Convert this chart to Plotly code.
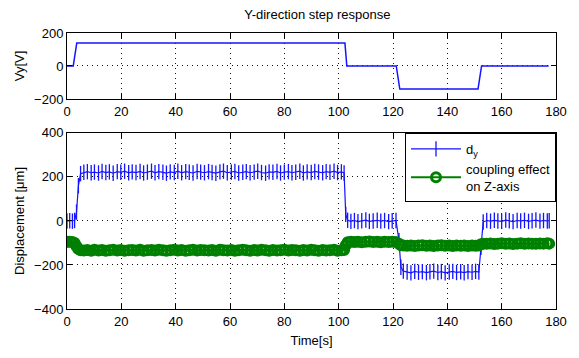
import plotly.graph_objects as go
from plotly.subplots import make_subplots

# ---- Top panel: applied voltage Vy ----
t_v = [0, 2.3, 3.6, 102.3, 102.5, 103.0, 121.2, 122.5, 151.3, 152.6, 177.3]
vy = [0, 0, 140, 140, 100, 0, 0, -140, -140, 0, 0]

# ---- Bottom panel: displacement dy and coupling effect on Z ----
t_d = [0, 1.0, 2.0, 2.8, 3.5, 4.2, 5.0, 6.2, 7.5, 8.9,
       10.1, 11.6, 12.9, 14.3, 15.6, 17.0, 18.5, 19.8, 21.2, 22.7,
       24.0, 25.4, 26.9, 28.2, 29.6, 31.1, 32.4, 33.8, 35.3, 36.6,
       38.0, 39.5, 40.8, 42.2, 43.7, 45.0, 46.4, 47.9, 49.2, 50.6,
       52.1, 53.4, 54.8, 56.3, 57.6, 59.0, 60.5, 61.8, 63.2, 64.7,
       66.0, 67.4, 68.9, 70.2, 71.6, 73.1, 74.4, 75.8, 77.3, 78.6,
       80.0, 81.5, 82.8, 84.2, 85.7, 87.0, 88.4, 89.9, 91.2, 92.6,
       94.1, 95.4, 96.8, 98.3, 99.6, 101.0, 102.0, 102.6, 103.3, 104.5,
       105.8, 107.1, 108.5, 110.0, 111.3, 112.7, 114.2, 115.5, 116.9, 118.4,
       119.7, 121.1, 122.2, 122.9, 123.8, 125.2, 126.6, 128.0, 129.4, 130.8,
       132.3, 133.6, 135.0, 136.5, 137.8, 139.2, 140.7, 142.0, 143.4, 144.9,
       146.2, 147.6, 149.1, 150.4, 151.6, 152.4, 153.2, 154.5, 155.9, 157.3,
       158.6, 160.0, 161.5, 162.8, 164.2, 165.7, 167.0, 168.4, 169.9, 171.2,
       172.6, 174.1, 175.4, 176.8, 177.5]

dy = [0, 1, -1, 2, 40, 160, 215, 221, 224, 219,
      222, 218, 225, 220, 223, 217, 224, 221, 226, 219,
      223, 220, 225, 218, 222, 226, 219, 224, 221, 217,
      223, 220, 226, 219, 224, 221, 218, 225, 222, 219,
      224, 220, 217, 223, 226, 219, 222, 225, 218, 221,
      224, 219, 222, 226, 220, 217, 223, 221, 225, 218,
      222, 224, 219, 221, 226, 218, 223, 220, 225, 222,
      219, 224, 221, 226, 220, 223, 218, 30, 3, -2,
      2, -3, 1, 4, -2, 0, 3, -1, 2, -3,
      1, 2, -90, -210, -228, -232, -236, -229, -233, -230,
      -235, -231, -228, -234, -230, -236, -232, -229, -234, -231,
      -235, -230, -233, -229, -232, -120, -5, 2, -1, 3,
      0, -2, 4, 1, -3, 2, 0, 3, -2, 1,
      4, -1, 2, 0, 1]

cz = [-95, -95, -96, -100, -115, -128, -133, -134, -132, -135,
      -131, -134, -132, -135, -133, -131, -134, -132, -135, -133,
      -132, -134, -131, -135, -133, -132, -134, -131, -133, -135,
      -133, -131, -134, -132, -135, -133, -131, -134, -132, -133,
      -134, -132, -135, -131, -133, -134, -132, -135, -133, -131,
      -133, -135, -132, -134, -131, -133, -135, -132, -134, -133,
      -131, -134, -132, -133, -135, -132, -134, -131, -133, -135,
      -132, -134, -133, -131, -135, -133, -132, -110, -97, -95,
      -96, -94, -97, -95, -93, -96, -94, -97, -95, -96,
      -94, -96, -104, -110, -112, -113, -111, -114, -112, -110,
      -113, -111, -114, -112, -110, -113, -111, -114, -112, -113,
      -111, -114, -112, -113, -111, -106, -103, -104, -102, -105,
      -103, -101, -104, -102, -105, -103, -101, -104, -102, -103,
      -104, -102, -103, -101, -103]

x_ticks = [0, 20, 40, 60, 80, 100, 120, 140, 160, 180]
vy_ticks = [-200, 0, 200]
d_ticks = [-400, -200, 0, 200, 400]

BLUE = "#1414ff"
GREEN = "#008000"
FONT = "Arial"

fig = make_subplots(rows=2, cols=1)
fig.update_layout(
    yaxis=dict(domain=[0.761, 1.0]),
    yaxis2=dict(domain=[0.0, 0.638]),
)

fig.add_trace(go.Scatter(x=t_v, y=vy, mode="lines",
                         line=dict(color=BLUE, width=1.5),
                         showlegend=False), row=1, col=1)

fig.add_trace(go.Scatter(x=t_d, y=dy, mode="lines+markers", name="d<sub>y</sub>",
                         line=dict(color=BLUE, width=1.2),
                         marker=dict(symbol="line-ns-open", size=11,
                                     line=dict(color=BLUE, width=1.3))),
              row=2, col=1)
fig.add_trace(go.Scatter(x=t_d, y=cz, mode="lines+markers",
                         name="coupling effect<br>on Z-axis",
                         line=dict(color=GREEN, width=2),
                         marker=dict(symbol="circle-open", size=9,
                                     line=dict(color=GREEN, width=3))),
              row=2, col=1)

axis_common = dict(showline=True, linecolor="black", linewidth=1, mirror="ticks",
                   ticks="inside", ticklen=5, tickcolor="black",
                   showgrid=True, gridcolor="#111", gridwidth=1, griddash="1px,4px",
                   zeroline=False, tickfont=dict(family=FONT, size=13, color="black"))

fig.update_xaxes(range=[0, 180], tickvals=x_ticks, **axis_common)
fig.update_yaxes(range=[-200, 200], tickvals=vy_ticks, row=1, col=1, **axis_common)
fig.update_yaxes(range=[-400, 400], tickvals=d_ticks, row=2, col=1, **axis_common)

fig.update_yaxes(title=dict(text="Vy[V]", font=dict(family=FONT, size=13, color="black"),
                            standoff=6), row=1, col=1)
fig.update_yaxes(title=dict(text="Displacement [μm]",
                            font=dict(family=FONT, size=13, color="black"),
                            standoff=6), row=2, col=1)
fig.update_xaxes(title=dict(text="Time[s]", font=dict(family=FONT, size=13, color="black"),
                            standoff=8), row=2, col=1)

fig.update_layout(
    width=579, height=358,
    margin=dict(l=67, r=12, t=33, b=49),
    paper_bgcolor="white", plot_bgcolor="white",
    title=dict(text="Y-direction step response", x=0.548, xanchor="center",
               y=0.96, yanchor="middle",
               font=dict(family=FONT, size=13, color="black")),
    legend=dict(x=1.0, xanchor="right", y=0.638, yanchor="top",
                bgcolor="white", bordercolor="black", borderwidth=1,
                itemwidth=50, tracegroupgap=10,
                font=dict(family=FONT, size=13, color="black")),
    showlegend=True,
)

fig.write_html("out.html")
